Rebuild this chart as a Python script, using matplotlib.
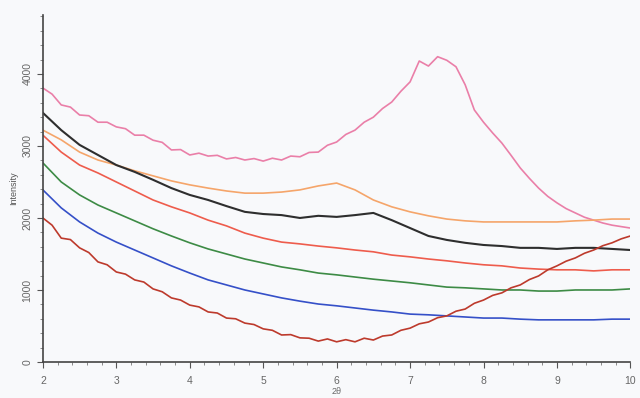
import numpy as np
import matplotlib.pyplot as plt

# =========================
# DATA (read from the scanned XRD pattern)
# =========================
x_q = np.arange(2.0, 10.01, 0.25)      # quarter steps
x_e = np.arange(2.0, 10.01, 0.125)     # eighth steps (noisy curves)

pink = [3805, 3720, 3570, 3540, 3430, 3420, 3330, 3330, 3265, 3240, 3150, 3150, 3080,
        3050, 2945, 2950, 2875, 2900, 2860, 2870, 2820, 2840, 2805, 2825, 2790, 2830,
        2805, 2860, 2850, 2910, 2915, 3010, 3055, 3160, 3220, 3330, 3400, 3520, 3610,
        3760, 3890, 4180, 4110, 4240, 4190, 4100, 3850, 3500, 3330, 3180, 3040, 2870,
        2695, 2550, 2415, 2300, 2210, 2130, 2070, 2010, 1970, 1930, 1900, 1880, 1860]

orange = [3220, 3085, 2915, 2805, 2735, 2655, 2585, 2515, 2460, 2415, 2375, 2345, 2345,
          2360, 2390, 2445, 2485, 2390, 2250, 2155, 2085, 2030, 1985, 1960, 1945, 1945,
          1945, 1945, 1945, 1960, 1970, 1985, 1985]

black = [3460, 3220, 3015, 2875, 2735, 2640, 2530, 2415, 2320, 2250, 2165, 2085, 2055,
         2040, 2000, 2030, 2015, 2040, 2070, 1970, 1860, 1750, 1695, 1655, 1625, 1610,
         1585, 1585, 1570, 1585, 1585, 1570, 1555]

red = [3150, 2915, 2735, 2625, 2500, 2375, 2250, 2155, 2070, 1970, 1890, 1790, 1720,
       1665, 1640, 1610, 1585, 1555, 1530, 1485, 1460, 1430, 1405, 1375, 1350, 1335,
       1305, 1290, 1280, 1280, 1265, 1280, 1280]

green = [2765, 2500, 2320, 2180, 2070, 1960, 1850, 1750, 1655, 1570, 1500, 1430, 1375,
         1320, 1280, 1235, 1210, 1180, 1150, 1125, 1100, 1070, 1040, 1030, 1015, 1000,
         1000, 985, 985, 1000, 1000, 1000, 1015]

blue = [2390, 2140, 1945, 1790, 1665, 1555, 1445, 1335, 1235, 1140, 1070, 1000, 945,
        890, 845, 805, 780, 750, 720, 695, 665, 655, 640, 625, 610, 610, 595, 585, 585,
        585, 585, 595, 595]

darkred = [2000, 1900, 1720, 1700, 1585, 1520, 1390, 1350, 1250, 1220, 1140, 1110, 1015,
           975, 890, 860, 790, 765, 695, 680, 610, 600, 540, 520, 460, 440, 375, 380,
           335, 330, 290, 320, 280, 310, 280, 330, 305, 360, 375, 440, 470, 530, 555,
           615, 640, 705, 735, 815, 860, 925, 960, 1030, 1070, 1145, 1195, 1280, 1335,
           1400, 1445, 1510, 1555, 1615, 1655, 1710, 1750]

# =========================
# PLOT
# =========================
plt.rcParams['font.family'] = ['Liberation Sans', 'DejaVu Sans']

fig = plt.figure(figsize=(6.4, 3.98), dpi=100)
fig.patch.set_facecolor('#f8f9fb')
ax = fig.add_axes([0.067, 0.0905, 0.918, 0.872])
ax.set_facecolor('#f8f9fb')

lw = 1.2
ax.plot(x_e, pink, color='#ea7fa8', lw=lw)
ax.plot(x_q, orange, color='#f5a56a', lw=lw)
ax.plot(x_q, black, color='#2e2e2e', lw=1.5)
ax.plot(x_q, red, color='#ee5c4c', lw=lw)
ax.plot(x_q, green, color='#3d8b45', lw=lw)
ax.plot(x_q, blue, color='#3550c8', lw=lw)
ax.plot(x_e, darkred, color='#bd3a2c', lw=lw)

ax.set_xlim(2, 10)
ax.set_ylim(0, 4820)
ax.set_xticks(range(2, 11))
ax.set_yticks([0, 1000, 2000, 3000, 4000])
ax.set_xticks(np.arange(2, 10.01, 0.2), minor=True)
ax.set_yticks(np.arange(0, 4801, 200), minor=True)

for s in ['top', 'right']:
    ax.spines[s].set_visible(False)
for s in ['left', 'bottom']:
    ax.spines[s].set_color('#444444')
    ax.spines[s].set_linewidth(1.2)

ax.tick_params(axis='both', which='major', length=4, color='#555555',
               labelsize=7.5, labelcolor='#666666')
ax.tick_params(axis='both', which='minor', length=2, color='#777777')
ax.tick_params(axis='x', pad=6)
plt.setp(ax.get_yticklabels(), rotation=90, va='center')

ax.set_xlabel('2θ', fontsize=6.5, color='#666666', labelpad=1)
ax.set_ylabel('Intensity', fontsize=6.5, color='#555555', labelpad=3)

fig.savefig('out.png', dpi=100, facecolor=fig.get_facecolor())
